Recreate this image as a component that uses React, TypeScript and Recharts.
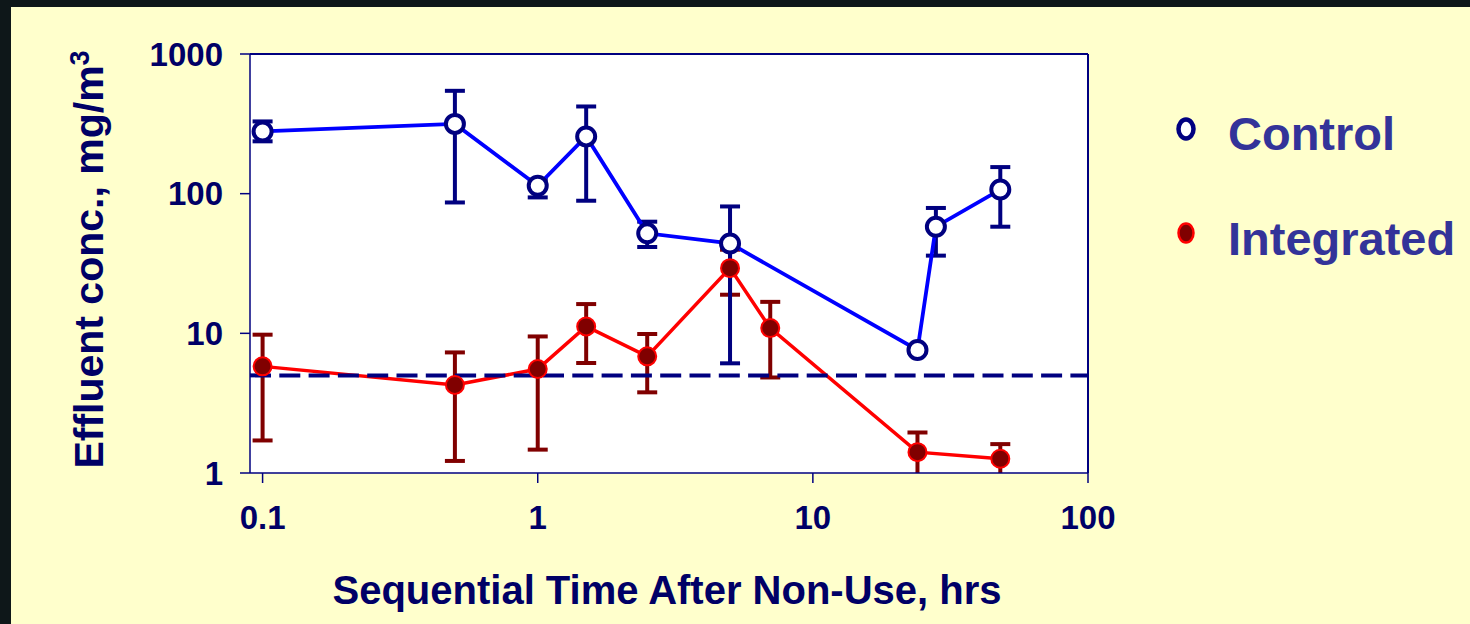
import React from 'react';
import {
  ComposedChart, Line, XAxis, YAxis, CartesianGrid, ErrorBar, ReferenceLine, Label,
} from 'recharts';

// sampling times (hrs) shared by both series
const times = [0.1, 0.5, 1, 1.5, 2.5, 5, 7, 24, 28, 48];

// control: mean and error-bar bounds, null where not sampled
const controlMean = [279, 316, 114, 257, 52, 44, null, 7.6, 58, 107];
const controlLow = [237, 86.5, 94, 89, 41.5, 6.1, null, 7.3, 36, 58];
const controlHigh = [329, 545, 126, 421, 63, 81, null, 7.9, 79, 155];

// integrated system
const integratedMean = [5.8, 4.27, 5.55, 11.2, 6.84, 29.3, 10.9, 1.41, null, 1.265];
const integratedLow = [1.71, 1.22, 1.47, 6.13, 3.78, 18.9, 4.83, 0.87, null, 0.92];
const integratedHigh = [9.78, 7.3, 9.5, 16.2, 9.89, 39.7, 16.8, 1.95, null, 1.61];

const limitLine = 5;
const xTicks = [0.1, 1, 10, 100];
const yTicks = [1, 10, 100, 1000];

const NAVY = '#000080';
const INK = '#000066';
const FONT = '"Liberation Sans", Arial, Helvetica, sans-serif';

// chart frame
const W = 1470;
const H = 624;
const MARGIN = { top: 54, right: 382, bottom: 91, left: 150 };
const X_AXIS_H = 60;
const Y_AXIS_W = 100;
const plotBox = {
  x: MARGIN.left + Y_AXIS_W,
  y: MARGIN.top,
  width: W - MARGIN.left - Y_AXIS_W - MARGIN.right,
  height: H - MARGIN.top - MARGIN.bottom - X_AXIS_H,
};

const errorPair = (mean: (number | null)[], low: (number | null)[], high: (number | null)[], i: number) =>
  mean[i] == null ? undefined : [(mean[i] as number) - (low[i] as number), (high[i] as number) - (mean[i] as number)];

const data = times.map((t, i) => ({
  t,
  control: controlMean[i],
  controlErr: errorPair(controlMean, controlLow, controlHigh, i),
  integrated: integratedMean[i],
  integratedErr: errorPair(integratedMean, integratedLow, integratedHigh, i),
}));

const tickStyle = { fill: INK, fontSize: 33, fontWeight: 700, fontFamily: FONT };

const YTitle = ({ viewBox }: any) => {
  const x = viewBox.x - 47;
  const y = viewBox.y + viewBox.height / 2 - 4;
  return (
    <text
      x={x} y={y} transform={`rotate(-90, ${x}, ${y})`} textAnchor="middle"
      fill={INK} fontSize={41} fontWeight={700} fontFamily={FONT}
    >
      Effluent conc., mg/m<tspan fontSize={27} dy={-14}>3</tspan>
    </text>
  );
};

const XTitle = ({ viewBox }: any) => (
  <text
    x={viewBox.x + viewBox.width / 2 - 2} y={viewBox.y + 131} textAnchor="middle"
    fill={INK} fontSize={40} fontWeight={700} fontFamily={FONT}
  >
    Sequential Time After Non-Use, hrs
  </text>
);

const legendItems = [
  { label: 'Control', fill: '#ffffff', stroke: NAVY, strokeWidth: 4.5 },
  { label: 'Integrated', fill: '#800000', stroke: '#ff0000', strokeWidth: 2.5 },
];

const SideLegend = () => (
  <svg width={310} height={180} style={{ position: 'absolute', left: 1160, top: 100 }}>
    {legendItems.map((it, i) => (
      <g key={it.label}>
        <ellipse cx={26} cy={29 + i * 104} rx={7.5} ry={9.5} fill={it.fill} stroke={it.stroke} strokeWidth={it.strokeWidth} />
        <text x={68} y={50 + i * 105} fill="#333399" fontSize={47} fontWeight={700} fontFamily={FONT}>
          {it.label}
        </text>
      </g>
    ))}
  </svg>
);

export default function App() {
  return (
    <div style={{ position: 'absolute', left: 0, top: 0, width: W, height: H, background: '#0e1719' }}>
      {/* error bars that run past the axis are cut at the plot edge */}
      <style>{'.recharts-errorBar { clip-path: url(#plot-clip); }'}</style>
      <svg width={0} height={0} style={{ position: 'absolute' }}>
        <defs>
          <clipPath id="plot-clip" clipPathUnits="userSpaceOnUse">
            <rect x={plotBox.x} y={plotBox.y} width={plotBox.width} height={plotBox.height} />
          </clipPath>
        </defs>
      </svg>
      <div style={{ position: 'absolute', left: 11, top: 7, right: 0, bottom: 0, background: '#ffffcc' }} />
      <div style={{ position: 'absolute', left: 0, top: 0 }}>
        <ComposedChart width={W} height={H} data={data} margin={MARGIN}>
          <CartesianGrid fill="#ffffff" horizontal={false} vertical={false} />
          <XAxis
            dataKey="t" type="number" scale="log" domain={[0.09, 100]} ticks={xTicks} allowDataOverflow
            height={X_AXIS_H} tickSize={10} tickMargin={23} tick={tickStyle}
            axisLine={{ stroke: NAVY, strokeWidth: 1.5 }} tickLine={{ stroke: NAVY, strokeWidth: 1.5 }}
          >
            <Label content={<XTitle />} />
          </XAxis>
          <YAxis
            type="number" scale="log" domain={[1, 1000]} ticks={yTicks} allowDataOverflow
            width={Y_AXIS_W} tickSize={10} tickMargin={17} tick={tickStyle}
            axisLine={{ stroke: NAVY, strokeWidth: 1.5 }} tickLine={{ stroke: NAVY, strokeWidth: 1.5 }}
          >
            <Label content={<YTitle />} />
          </YAxis>
          <ReferenceLine y={1000} stroke={NAVY} strokeWidth={2} />
          <ReferenceLine x={100} stroke={NAVY} strokeWidth={2} />
          <Line
            dataKey="integrated" stroke="#ff0000" strokeWidth={3.5} connectNulls isAnimationActive={false}
            dot={{ r: 9, fill: '#800000', stroke: '#ff0000', strokeWidth: 2 }} activeDot={false}
          >
            <ErrorBar dataKey="integratedErr" width={10} stroke="#800000" strokeWidth={4} isAnimationActive={false} />
          </Line>
          <Line
            dataKey="control" stroke="#0000ff" strokeWidth={3.8} connectNulls isAnimationActive={false}
            dot={{ r: 9, fill: '#ffffff', stroke: NAVY, strokeWidth: 4 }} activeDot={false}
          >
            <ErrorBar dataKey="controlErr" width={10} stroke={NAVY} strokeWidth={4} isAnimationActive={false} />
          </Line>
          <ReferenceLine y={limitLine} stroke={NAVY} strokeWidth={4} strokeDasharray="21 8.3" />
        </ComposedChart>
      </div>
      <SideLegend />
    </div>
  );
}
